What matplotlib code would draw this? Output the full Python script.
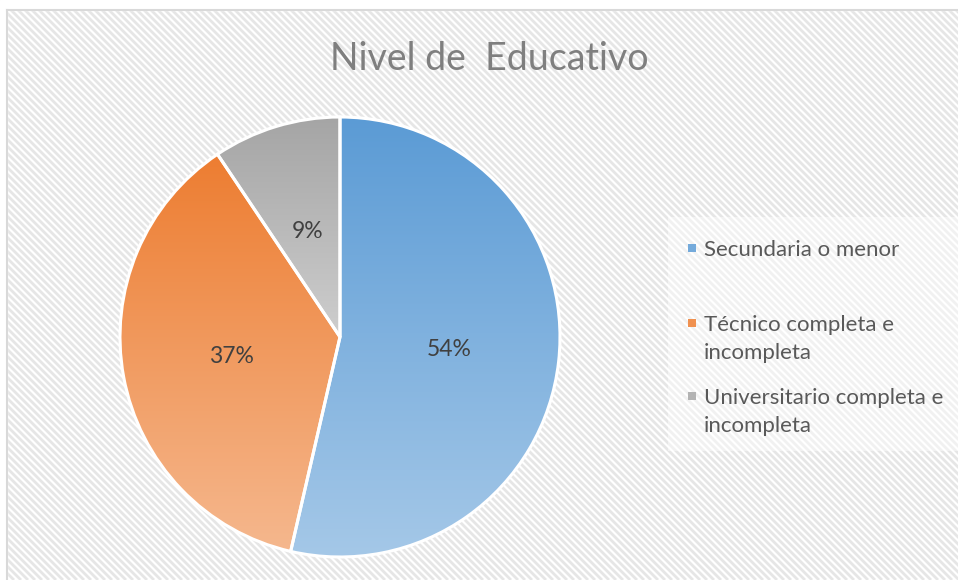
import numpy as np
import matplotlib
matplotlib.use("Agg")
import matplotlib.pyplot as plt
from matplotlib.collections import LineCollection
from matplotlib.patches import Rectangle
from matplotlib.colors import to_rgb

# data
categories = ["Secundaria o menor", "Técnico completa e\nincompleta", "Universitario completa e\nincompleta"]
shares = [53.6, 37.0, 9.4]
pct_labels = ["54%", "37%", "9%"]
base_colors = ["#5B9BD5", "#ED7D31", "#A5A5A5"]
title = "Nivel de  Educativo"

W, H = 958, 580
plt.rcParams['font.family'] = ['Lato', 'DejaVu Sans']

fig = plt.figure(figsize=(W / 100, H / 100), dpi=100)
fig.patch.set_facecolor("white")

# background with diagonal stripes, in pixel coords
bg = fig.add_axes([0, 0, 1, 1])
bg.set_xlim(0, W)
bg.set_ylim(H, 0)
bg.axis("off")
segs = []
for c in range(-H, W + H, 7):
    segs.append([(c, 0), (c + H, H)])
bg.add_collection(LineCollection(segs, colors="#E6E6E6", linewidths=2.0, zorder=0))
# white margin above and left of the chart frame
bg.add_patch(Rectangle((0, 0), W, 10, color="white", zorder=1))
bg.add_patch(Rectangle((0, 0), 7, H, color="white", zorder=1))
bg.plot([7, W], [10, 10], color="#D9D9D9", lw=1.5, zorder=2)
bg.plot([7, 7], [10, H], color="#D9D9D9", lw=1.5, zorder=2)
# light box behind legend
bg.add_patch(Rectangle((668, 217), 290, 234, color="white", alpha=0.45, lw=0, zorder=1))

# pie
cx, cy, r = 340, 337, 220
ax = fig.add_axes([(cx - r) / W, (H - cy - r) / H, 2 * r / W, 2 * r / H])
ax.set_xlim(-1, 1)
ax.set_ylim(-1, 1)
ax.axis("off")

wedges, _ = ax.pie(shares, startangle=90, counterclock=False, radius=1,
                   wedgeprops=dict(edgecolor="white", linewidth=2.2))


def shade(col, k):
    c = np.array(to_rgb(col))
    return c + (1 - c) * k


for w, col in zip(wedges, base_colors):
    w.set_facecolor("none")
    verts = w.get_path().vertices
    y0, y1 = verts[:, 1].min(), verts[:, 1].max()
    t = np.linspace(0, 1, 256)[:, None]
    top, bot = shade(col, 0.0), shade(col, 0.45)
    grad = (top[None, :] * (1 - t) + bot[None, :] * t)[:, None, :]
    im = ax.imshow(grad, extent=(-1, 1, y0, y1), origin="upper", aspect="auto", zorder=1)
    im.set_clip_path(w)
    w.set_zorder(2)

# percentage labels at the middle of each slice
start = 90.0
for s, lab in zip(shares, pct_labels):
    mid = np.deg2rad(start - s * 3.6 / 2)
    ax.text(0.5 * np.cos(mid), 0.5 * np.sin(mid), lab, ha="center", va="center",
            fontsize=16.5, color="#404040", zorder=3)
    start -= s * 3.6
ax.set_xlim(-1, 1)
ax.set_ylim(-1, 1)

# title
fig.text(489 / W, 1 - 59 / H, title, ha="center", va="center", fontsize=27, color="#7F7F7F")

# legend
legend_base = [256, 331, 404]
for lab, col, y in zip(categories, base_colors, legend_base):
    bg.add_patch(Rectangle((688, y - 12), 8, 8, color=shade(col, 0.15), lw=0, zorder=3))
    for i, line in enumerate(lab.split("\n")):
        bg.text(704, y + 28 * i, line, ha="left", va="baseline", fontsize=16,
                color="#595959", zorder=3)

fig.savefig("out.png", dpi=100)
